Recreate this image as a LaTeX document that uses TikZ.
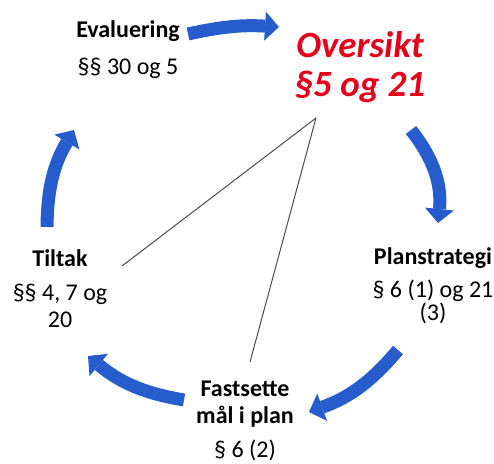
\documentclass[tikz,border=0pt]{standalone}
\usepackage{fontspec}
\setmainfont{Carlito}
\usetikzlibrary{arrows.meta,positioning}
\definecolor{cycBlue}{RGB}{38,92,204}
\definecolor{osRed}{RGB}{228,0,24}
\tikzstyle{hS}=[font=\fontsize{24}{27}\selectfont\bfseries, inner sep=0pt, align=center]
\tikzstyle{pS}=[font=\fontsize{24}{27}\selectfont, inner sep=0pt, align=center]
\tikzstyle{oS}=[font=\fontsize{37}{42}\selectfont\bfseries\itshape, text=osRed, inner sep=0pt, align=center]
\tikzstyle{eArr}=[draw=cycBlue, line width=13pt, -{Triangle[length=14pt,width=29pt,line width=0pt]}, bend left]
\tikzstyle{eLine}=[draw=black!70, line width=1pt]

\begin{document}
\begin{tikzpicture}[x=1pt,y=1pt]
                \useasboundingbox (0,0) rectangle (494,463);
                % stages
                \draw (128,432) node[hS] (eval) {Evaluering};
                \draw (128,395) node[pS] (evalP) {§§ 30 og 5};
                \draw (360,418) node[oS] (over) {Oversikt};
                \draw (360,376) node[oS] (overP) {§5 og 21};
                \draw (433,205) node[hS] (plan) {Planstrategi};
                \draw (433,161) node[pS, font=\fontsize{24}{23}\selectfont] (planP) {§ 6 (1) og 21\\(3)};
                \draw (245,59) node[hS] (fast) {Fastsette\\mål i plan};
                \draw (245,13) node[pS] (fastP) {§ 6 (2)};
                \draw (60,205) node[hS] (tilt) {Tiltak};
                \draw (60,157) node[pS] (tiltP) {§§ 4, 7 og\\20};
                % arrow ends and line ends
                \coordinate (a1) at (188,429); \coordinate (b1) at (279,436);
                \coordinate (a2) at (411,333); \coordinate (b2) at (438,240);
                \coordinate (a3) at (398,113); \coordinate (b3) at (309,51);
                \coordinate (a4) at (184,63);  \coordinate (b4) at (88,107);
                \coordinate (a5) at (47,236);  \coordinate (b5) at (74,333);
                \coordinate (apex) at (316,345);
                \coordinate (lT) at (122,197);
                \coordinate (lF) at (250,101);
                \path
                    (a1) edge[eArr, bend left=8] (b1)
                    (a2) edge[eArr, bend left=22] (b2)
                    (a3) edge[eArr, bend left=15] (b3)
                    (a4) edge[eArr, bend left=15] (b4)
                    (a5) edge[eArr, bend left=15] (b5)
                    (apex) edge[eLine] (lT)
                    (apex) edge[eLine] (lF)
                ;
        \end{tikzpicture}
\end{document}
